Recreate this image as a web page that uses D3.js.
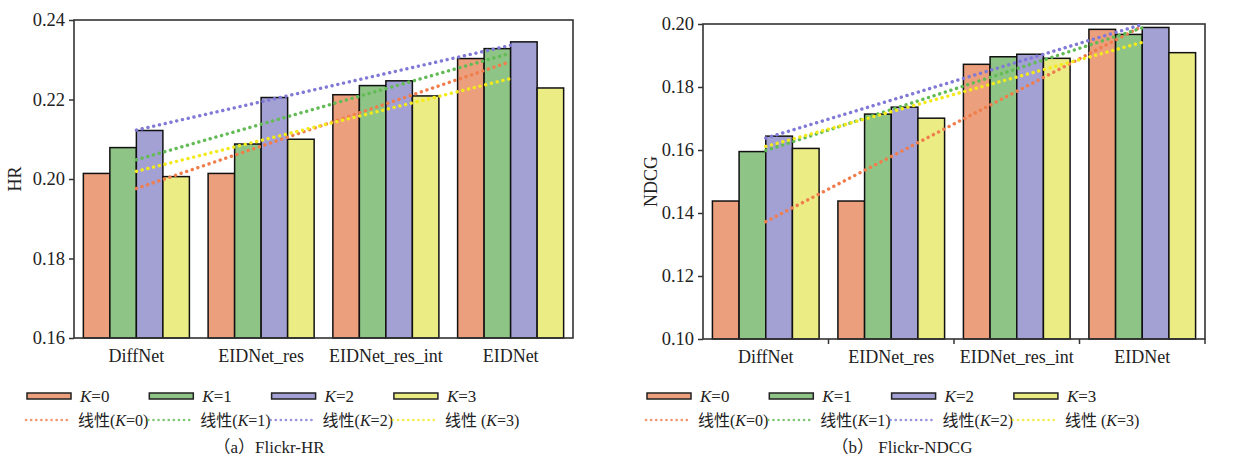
<!DOCTYPE html>
<html>
<head>
<meta charset="utf-8">
<script src="https://cdn.jsdelivr.net/npm/d3@7"></script>
<style>
  body { margin: 0; background: #fff; }
  svg text { font-family: "Liberation Serif", "Times New Roman", "Noto Sans CJK SC", serif; fill: #222; }
</style>
</head>
<body>
<svg id="chart" width="1237" height="459"></svg>
<script>
// categories and series
var categories = ["DiffNet", "EIDNet_res", "EIDNet_res_int", "EIDNet"];
var seriesKeys = ["K=0", "K=1", "K=2", "K=3"];

// HR values (one array per K)
var hrK0 = [0.2014, 0.2014, 0.2212, 0.2303];
var hrK1 = [0.2079, 0.2088, 0.2235, 0.2328];
var hrK2 = [0.2122, 0.2205, 0.2247, 0.2345];
var hrK3 = [0.2006, 0.2100, 0.2209, 0.2229];

// NDCG values
var ndcgK0 = [0.1438, 0.1438, 0.1872, 0.1983];
var ndcgK1 = [0.1595, 0.1714, 0.1896, 0.1967];
var ndcgK2 = [0.1644, 0.1736, 0.1904, 0.1989];
var ndcgK3 = [0.1605, 0.1701, 0.1891, 0.1909];

var hrTicks = [0.16, 0.18, 0.20, 0.22, 0.24];
var ndcgTicks = [0.10, 0.12, 0.14, 0.16, 0.18, 0.20];

var barColors = ["#ec9f7c", "#8ec486", "#a3a0d4", "#ecec85"];
var lineColors = ["#f07d4c", "#62bb55", "#8079d6", "#f3ea1e"];

var svg = d3.select("#chart");

// least squares trend over category index 1..n, as the original "线性" trendline
function trend(vals) {
  var n = vals.length;
  var xs = d3.range(1, n + 1);
  var mx = d3.mean(xs), my = d3.mean(vals);
  var num = 0, den = 0;
  for (var i = 0; i < n; i++) {
    num += (xs[i] - mx) * (vals[i] - my);
    den += (xs[i] - mx) * (xs[i] - mx);
  }
  var b = num / den, a = my - b * mx;
  return xs.map(function(x) { return a + b * x; });
}

function drawPanel(opt) {
  var g = svg.append("g");
  var x = d3.scaleBand().domain(categories)
    .range([opt.left, opt.right]).paddingInner(0.15).paddingOuter(0.075);
  var xs = d3.scaleBand().domain(d3.range(4)).range([0, x.bandwidth()]);
  var y = d3.scaleLinear().domain(opt.domain).range([opt.bottom, opt.top]);

  // bars
  opt.series.forEach(function(vals, s) {
    g.selectAll(null).data(vals).enter().append("rect")
      .attr("x", function(d, i) { return x(categories[i]) + xs(s); })
      .attr("y", function(d) { return y(d); })
      .attr("width", xs.bandwidth())
      .attr("height", function(d) { return opt.bottom - y(d); })
      .attr("fill", barColors[s])
      .attr("stroke", "#111")
      .attr("stroke-width", 1.5);
  });

  // frame
  g.append("rect")
    .attr("x", opt.left).attr("y", opt.top)
    .attr("width", opt.right - opt.left).attr("height", opt.bottom - opt.top)
    .attr("fill", "none").attr("stroke", "#333").attr("stroke-width", 1.6);

  // trend lines, from first to last category centre
  var line = d3.line()
    .x(function(p) { return x(categories[p[0]]) + x.bandwidth() / 2; })
    .y(function(p) { return y(p[1]); });
  opt.series.forEach(function(vals, s) {
    var t = trend(vals);
    var pts = [[0, t[0]], [t.length - 1, t[t.length - 1]]];
    g.append("path")
      .attr("d", line(pts))
      .attr("fill", "none")
      .attr("stroke", lineColors[s])
      .attr("stroke-width", 3.4)
      .attr("stroke-linecap", "round")
      .attr("stroke-dasharray", "0.1 5.8");
  });

  // y axis
  var yAxis = d3.axisLeft(y).tickValues(opt.ticks).tickSize(5).tickPadding(4)
    .tickFormat(d3.format(".2f"));
  var ya = g.append("g").attr("transform", "translate(" + opt.left + ",0)").call(yAxis);
  ya.select(".domain").remove();
  ya.selectAll("line").attr("stroke", "#333").attr("stroke-width", 1.5);
  ya.selectAll("text").style("font-size", "18.5px").attr("fill", "#222");

  // x axis labels
  var xa = g.append("g").attr("transform", "translate(0," + opt.bottom + ")")
    .call(d3.axisBottom(x).tickSize(0).tickPadding(11));
  xa.select(".domain").remove();
  xa.selectAll("text").style("font-size", "18px").attr("fill", "#222");

  if (opt.xTicks) {
    var bounds = categories.slice(1).map(function(c) { return x(c) - x.step() * x.paddingInner() / 2; });
    bounds.push(opt.right);
    g.selectAll(null).data(bounds).enter().append("line")
      .attr("x1", function(d) { return d; }).attr("x2", function(d) { return d; })
      .attr("y1", opt.bottom).attr("y2", opt.bottom + 5)
      .attr("stroke", "#333").attr("stroke-width", 1.5);
  }

  // y title
  g.append("text")
    .attr("transform", "translate(" + opt.titleX + "," + ((opt.top + opt.bottom) / 2) + ") rotate(-90)")
    .attr("text-anchor", "middle").attr("dy", "0.35em")
    .style("font-size", "18px")
    .text(opt.yTitle);

  // legend
  var lg = g.append("g").attr("transform", "translate(" + opt.legendX + ",0)");
  var step = 122.3;
  seriesKeys.forEach(function(k, s) {
    var x0 = s * step;
    lg.append("rect")
      .attr("x", x0).attr("y", 393).attr("width", 44).attr("height", 6)
      .attr("fill", barColors[s]).attr("stroke", "#222").attr("stroke-width", 1.5);
    var t1 = lg.append("text").attr("x", x0 + 53).attr("y", 402).style("font-size", "17px");
    t1.append("tspan").style("font-style", "italic").text("K");
    t1.append("tspan").text("=" + s);

    lg.append("line")
      .attr("x1", x0 - 1).attr("x2", x0 + 44).attr("y1", 420).attr("y2", 420)
      .attr("stroke", lineColors[s]).attr("stroke-width", 2.6)
      .attr("stroke-linecap", "round").attr("stroke-dasharray", "0.1 5")
      .attr("opacity", 0.8);
    var t2 = lg.append("text").attr("x", x0 + 51).attr("y", 426).style("font-size", "16px");
    t2.append("tspan").text("线性" + (s === 3 ? " (" : "("));
    t2.append("tspan").style("font-style", "italic").text("K");
    t2.append("tspan").text("=" + s + ")");
  });

  g.append("text")
    .attr("x", opt.captionX).attr("y", 453)
    .attr("text-anchor", "middle")
    .style("font-size", "17px")
    .text(opt.caption);
}

drawPanel({
  left: 74, right: 573, top: 20, bottom: 338,
  domain: [0.16, 0.24], ticks: hrTicks,
  series: [hrK0, hrK1, hrK2, hrK3],
  yTitle: "HR", titleX: 15, xTicks: false,
  legendX: 27, caption: "（a）Flickr-HR", captionX: 269
});

drawPanel({
  left: 703, right: 1205, top: 24, bottom: 339,
  domain: [0.10, 0.20], ticks: ndcgTicks,
  series: [ndcgK0, ndcgK1, ndcgK2, ndcgK3],
  yTitle: "NDCG", titleX: 651, xTicks: true,
  legendX: 647, caption: "（b） Flickr-NDCG", captionX: 902
});
</script>
</body>
</html>
